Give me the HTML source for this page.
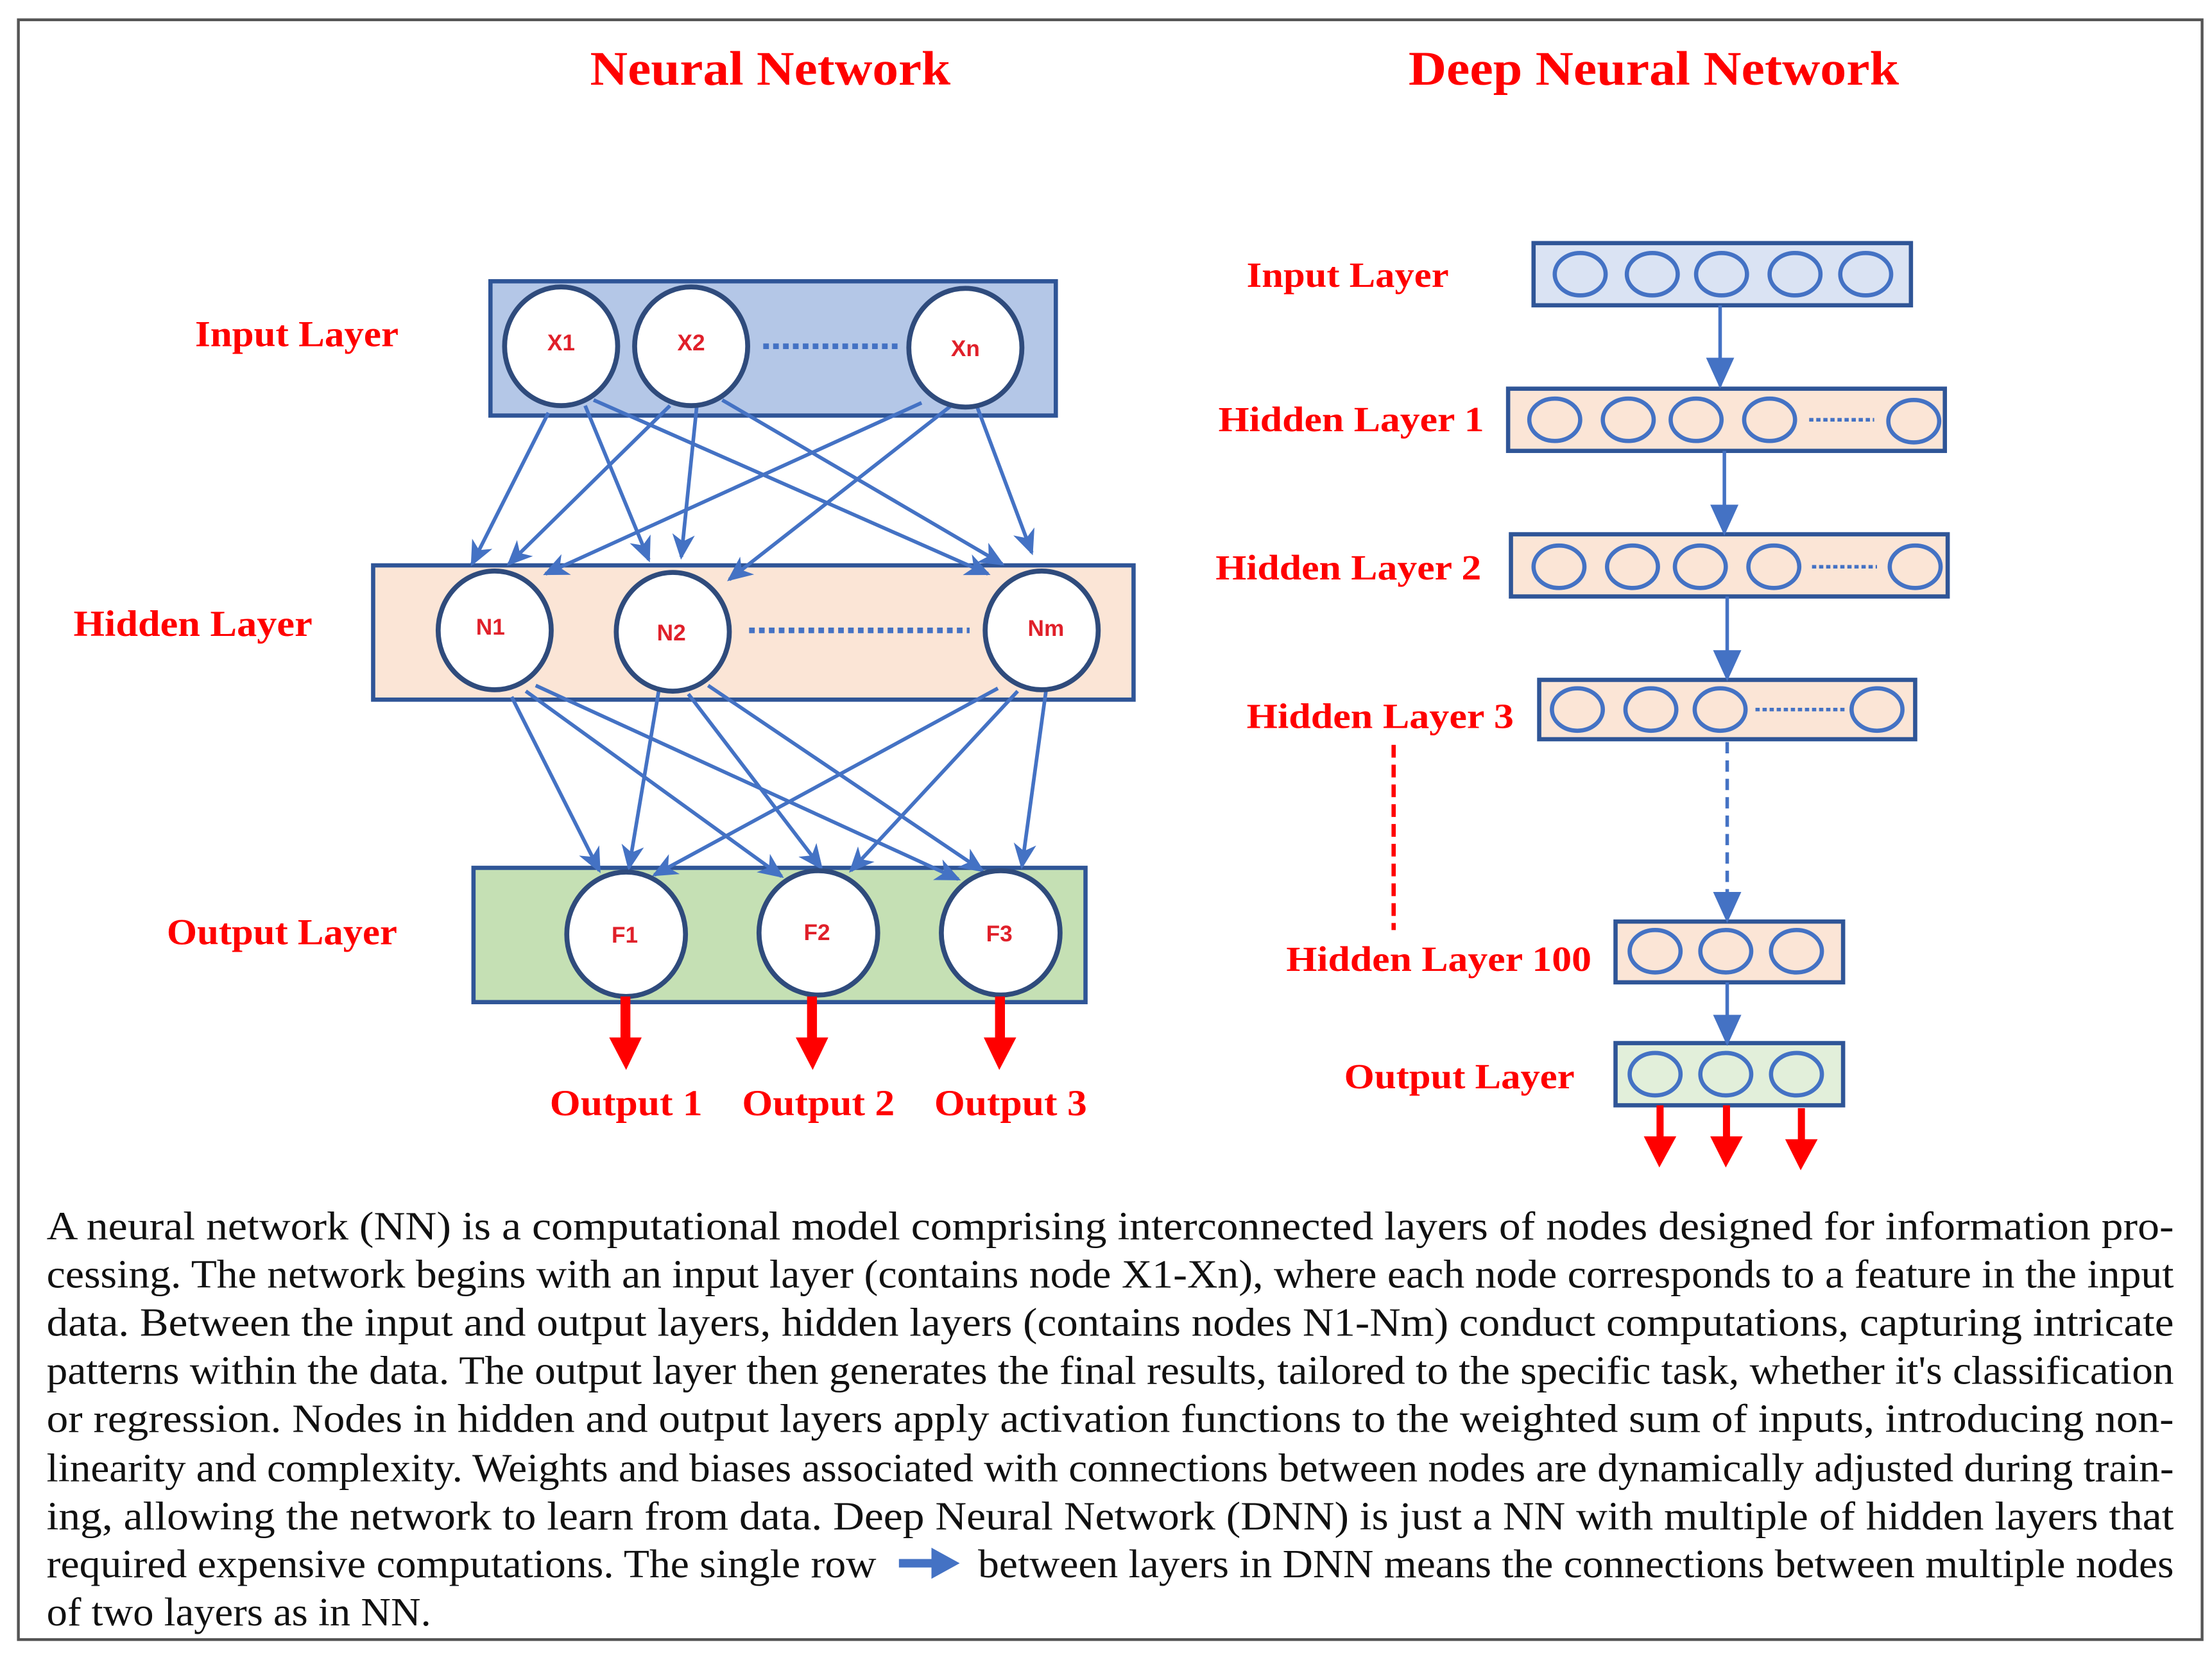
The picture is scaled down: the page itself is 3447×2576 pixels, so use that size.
<!DOCTYPE html>
<html><head><meta charset="utf-8"><style>
html,body{margin:0;padding:0;background:#fff;}
svg{display:block;}
.t{font-family:"Liberation Serif",serif;font-weight:bold;fill:#ff0000;}
.n{font-family:"Liberation Sans",sans-serif;font-weight:bold;fill:#e0202a;font-size:16px;}
.p{font-family:"Liberation Serif",serif;fill:#111;font-size:28.5px;}
</style></head><body>
<svg width="3447" height="2576" viewBox="0 0 1565 1169.5" preserveAspectRatio="none" xmlns="http://www.w3.org/2000/svg">
<defs>
<marker id="ab" markerUnits="userSpaceOnUse" markerWidth="18" markerHeight="16" refX="16" refY="8" orient="auto"><path d="M0,0 L18,8 L0,16 L5,8 Z" fill="#4472c4"/></marker>
<marker id="ab2" markerUnits="userSpaceOnUse" markerWidth="22" markerHeight="20" refX="20" refY="10" orient="auto"><path d="M0,0 L22,10 L0,20 Z" fill="#4472c4"/></marker>
</defs>
<rect x="0" y="0" width="1565" height="1170" fill="#fff"/>
<rect x="13" y="14" width="1545" height="1146" fill="none" stroke="#555" stroke-width="2"/>
<text class="t" x="545" y="60" font-size="34" text-anchor="middle" textLength="255" lengthAdjust="spacingAndGlyphs">Neural Network</text>
<text class="t" x="1170" y="60" font-size="34" text-anchor="middle" textLength="347" lengthAdjust="spacingAndGlyphs">Deep Neural Network</text>

<text class="t" x="138" y="245" font-size="26" textLength="144" lengthAdjust="spacingAndGlyphs">Input Layer</text>
<text class="t" x="52" y="450" font-size="26" textLength="169" lengthAdjust="spacingAndGlyphs">Hidden Layer</text>
<text class="t" x="118" y="668" font-size="26" textLength="163" lengthAdjust="spacingAndGlyphs">Output Layer</text>

<rect x="347" y="199" width="400" height="95" fill="#b4c7e7" stroke="#2f5597" stroke-width="3"/>
<rect x="264" y="400" width="538" height="95" fill="#fbe5d6" stroke="#2f5597" stroke-width="3"/>
<rect x="335" y="614" width="433" height="95" fill="#c5e0b4" stroke="#2f5597" stroke-width="3"/>

<g stroke="#4472c4" stroke-width="2.6" fill="none" marker-end="url(#ab)">
<line x1="388" y1="292" x2="334" y2="399"/>
<line x1="414" y1="287" x2="459" y2="396"/>
<line x1="420" y1="283" x2="699" y2="406"/>
<line x1="474" y1="287" x2="360" y2="399"/>
<line x1="493" y1="287" x2="482" y2="394"/>
<line x1="511" y1="283" x2="709" y2="399"/>
<line x1="652" y1="285" x2="386" y2="406"/>
<line x1="673" y1="287" x2="516" y2="410"/>
<line x1="691" y1="287" x2="730" y2="391"/>
<line x1="362" y1="493" x2="424" y2="616"/>
<line x1="372" y1="489" x2="553" y2="620"/>
<line x1="379" y1="485" x2="678" y2="622"/>
<line x1="466" y1="489" x2="445" y2="614"/>
<line x1="487" y1="491" x2="581" y2="614"/>
<line x1="501" y1="485" x2="695" y2="616"/>
<line x1="706" y1="487" x2="463" y2="619"/>
<line x1="720" y1="489" x2="602" y2="616"/>
<line x1="740" y1="489" x2="723" y2="613"/>
</g>

<g fill="#fff" stroke="#2f4b7c" stroke-width="3.5">
<ellipse cx="397" cy="245" rx="40" ry="42"/>
<ellipse cx="489" cy="245" rx="40" ry="42"/>
<ellipse cx="683" cy="246" rx="40" ry="42"/>
<ellipse cx="350" cy="446" rx="40" ry="42"/>
<ellipse cx="476" cy="447" rx="40" ry="42"/>
<ellipse cx="737" cy="446" rx="40" ry="42"/>
<ellipse cx="443" cy="661" rx="42" ry="44"/>
<ellipse cx="579" cy="660" rx="42" ry="44"/>
<ellipse cx="708" cy="660" rx="42" ry="44"/>
</g>
<g stroke="#4472c4" stroke-width="4" stroke-dasharray="4,3">
<line x1="540" y1="245" x2="637" y2="245"/>
<line x1="530" y1="446" x2="686" y2="446"/>
</g>
<text class="n" x="397" y="248" text-anchor="middle">X1</text>
<text class="n" x="489" y="248" text-anchor="middle">X2</text>
<text class="n" x="683" y="252" text-anchor="middle">Xn</text>
<text class="n" x="347" y="449" text-anchor="middle">N1</text>
<text class="n" x="475" y="453" text-anchor="middle">N2</text>
<text class="n" x="740" y="450" text-anchor="middle">Nm</text>
<text class="n" x="442" y="667" text-anchor="middle">F1</text>
<text class="n" x="578" y="665" text-anchor="middle">F2</text>
<text class="n" x="707" y="666" text-anchor="middle">F3</text>

<g fill="#ff0000">
<rect x="439" y="705" width="7" height="30"/><path d="M431,734 L454,734 L443,757 Z"/>
<rect x="571" y="705" width="7" height="30"/><path d="M563,734 L586,734 L575,757 Z"/>
<rect x="704" y="705" width="7" height="30"/><path d="M696,734 L719,734 L707,757 Z"/>
</g>
<text class="t" x="389" y="789" font-size="26" textLength="108" lengthAdjust="spacingAndGlyphs">Output 1</text>
<text class="t" x="525" y="789" font-size="26" textLength="108" lengthAdjust="spacingAndGlyphs">Output 2</text>
<text class="t" x="661" y="789" font-size="26" textLength="108" lengthAdjust="spacingAndGlyphs">Output 3</text>

<g class="t" font-size="25">
<text x="882" y="203" textLength="143" lengthAdjust="spacingAndGlyphs">Input Layer</text>
<text x="862" y="305" textLength="188" lengthAdjust="spacingAndGlyphs">Hidden Layer 1</text>
<text x="860" y="410" textLength="188" lengthAdjust="spacingAndGlyphs">Hidden Layer 2</text>
<text x="882" y="515" textLength="189" lengthAdjust="spacingAndGlyphs">Hidden Layer 3</text>
<text x="910" y="687" textLength="216" lengthAdjust="spacingAndGlyphs">Hidden Layer 100</text>
<text x="951" y="770" textLength="163" lengthAdjust="spacingAndGlyphs">Output Layer</text>
</g>
<line x1="986" y1="527" x2="986" y2="658" stroke="#ff0000" stroke-width="3" stroke-dasharray="9,5"/>

<g stroke="#2f5597" stroke-width="3">
<rect x="1085" y="172" width="267" height="44" fill="#dae3f3"/>
<rect x="1067" y="275" width="309" height="44" fill="#fbe5d6"/>
<rect x="1069" y="378" width="309" height="44" fill="#fbe5d6"/>
<rect x="1089" y="481" width="266" height="42" fill="#fbe5d6"/>
<rect x="1143" y="652" width="161" height="43" fill="#fbe5d6"/>
<rect x="1143" y="738" width="161" height="44" fill="#e2efda"/>
</g>
<g stroke="#4472c4" stroke-width="2.5" fill="none">
<line x1="1217" y1="216" x2="1217" y2="273" marker-end="url(#ab2)"/>
<line x1="1220" y1="319" x2="1220" y2="377" marker-end="url(#ab2)"/>
<line x1="1222" y1="422" x2="1222" y2="480" marker-end="url(#ab2)"/>
<line x1="1222" y1="525" x2="1222" y2="651" stroke-dasharray="8,5" marker-end="url(#ab2)"/>
<line x1="1222" y1="695" x2="1222" y2="738" marker-end="url(#ab2)"/>
</g>
<g fill="none" stroke="#4472c4" stroke-width="3">
<ellipse cx="1118" cy="194" rx="18" ry="15"/><ellipse cx="1169" cy="194" rx="18" ry="15"/><ellipse cx="1218" cy="194" rx="18" ry="15"/><ellipse cx="1270" cy="194" rx="18" ry="15"/><ellipse cx="1320" cy="194" rx="18" ry="15"/>
<ellipse cx="1100" cy="297" rx="18" ry="15"/><ellipse cx="1152" cy="297" rx="18" ry="15"/><ellipse cx="1200" cy="297" rx="18" ry="15"/><ellipse cx="1252" cy="297" rx="18" ry="15"/><ellipse cx="1354" cy="298" rx="18" ry="15"/>
<ellipse cx="1103" cy="401" rx="18" ry="15"/><ellipse cx="1155" cy="401" rx="18" ry="15"/><ellipse cx="1203" cy="401" rx="18" ry="15"/><ellipse cx="1255" cy="401" rx="18" ry="15"/><ellipse cx="1355" cy="401" rx="18" ry="15"/>
<ellipse cx="1116" cy="502" rx="18" ry="15"/><ellipse cx="1168" cy="502" rx="18" ry="15"/><ellipse cx="1217" cy="502" rx="18" ry="15"/><ellipse cx="1328" cy="502" rx="18" ry="15"/>
<ellipse cx="1171" cy="673" rx="18" ry="15"/><ellipse cx="1221" cy="673" rx="18" ry="15"/><ellipse cx="1271" cy="673" rx="18" ry="15"/>
<ellipse cx="1171" cy="760" rx="18" ry="15"/><ellipse cx="1221" cy="760" rx="18" ry="15"/><ellipse cx="1271" cy="760" rx="18" ry="15"/>
</g>
<g stroke="#4472c4" stroke-width="2.5" stroke-dasharray="3,2">
<line x1="1280" y1="297" x2="1326" y2="297"/>
<line x1="1282" y1="401" x2="1328" y2="401"/>
<line x1="1242" y1="502" x2="1306" y2="502"/>
</g>
<g fill="#ff0000">
<rect x="1172" y="782" width="5" height="24"/><path d="M1163,804 L1186,804 L1174,826 Z"/>
<rect x="1219" y="782" width="5" height="24"/><path d="M1210,804 L1233,804 L1221,826 Z"/>
<rect x="1272" y="784" width="5" height="24"/><path d="M1263,806 L1286,806 L1274,828 Z"/>
</g>

<g class="p">
<text x="33" y="877" textLength="1505" lengthAdjust="spacingAndGlyphs">A neural network (NN) is a computational model comprising interconnected layers of nodes designed for information pro-</text>
<text x="33" y="911" textLength="1505" lengthAdjust="spacingAndGlyphs">cessing. The network begins with an input layer (contains node X1-Xn), where each node corresponds to a feature in the input</text>
<text x="33" y="945" textLength="1505" lengthAdjust="spacingAndGlyphs">data. Between the input and output layers, hidden layers (contains nodes N1-Nm) conduct computations, capturing intricate</text>
<text x="33" y="979" textLength="1505" lengthAdjust="spacingAndGlyphs">patterns within the data. The output layer then generates the final results, tailored to the specific task, whether it's classification</text>
<text x="33" y="1013" textLength="1505" lengthAdjust="spacingAndGlyphs">or regression. Nodes in hidden and output layers apply activation functions to the weighted sum of inputs, introducing non-</text>
<text x="33" y="1048" textLength="1505" lengthAdjust="spacingAndGlyphs">linearity and complexity. Weights and biases associated with connections between nodes are dynamically adjusted during train-</text>
<text x="33" y="1082" textLength="1505" lengthAdjust="spacingAndGlyphs">ing, allowing the network to learn from data. Deep Neural Network (DNN) is just a NN with multiple of hidden layers that</text>
<text x="33" y="1116" textLength="587" lengthAdjust="spacingAndGlyphs">required expensive computations. The single row</text>
<text x="692" y="1116" textLength="846" lengthAdjust="spacingAndGlyphs">between layers in DNN means the connections between multiple nodes</text>
<text x="33" y="1150" textLength="272" lengthAdjust="spacingAndGlyphs">of two layers as in NN.</text>
</g>
<rect x="636" y="1103" width="26" height="6" fill="#4472c4"/>
<path d="M659,1095 L679,1106 L659,1117 Z" fill="#4472c4"/>
</svg>
</body></html>
